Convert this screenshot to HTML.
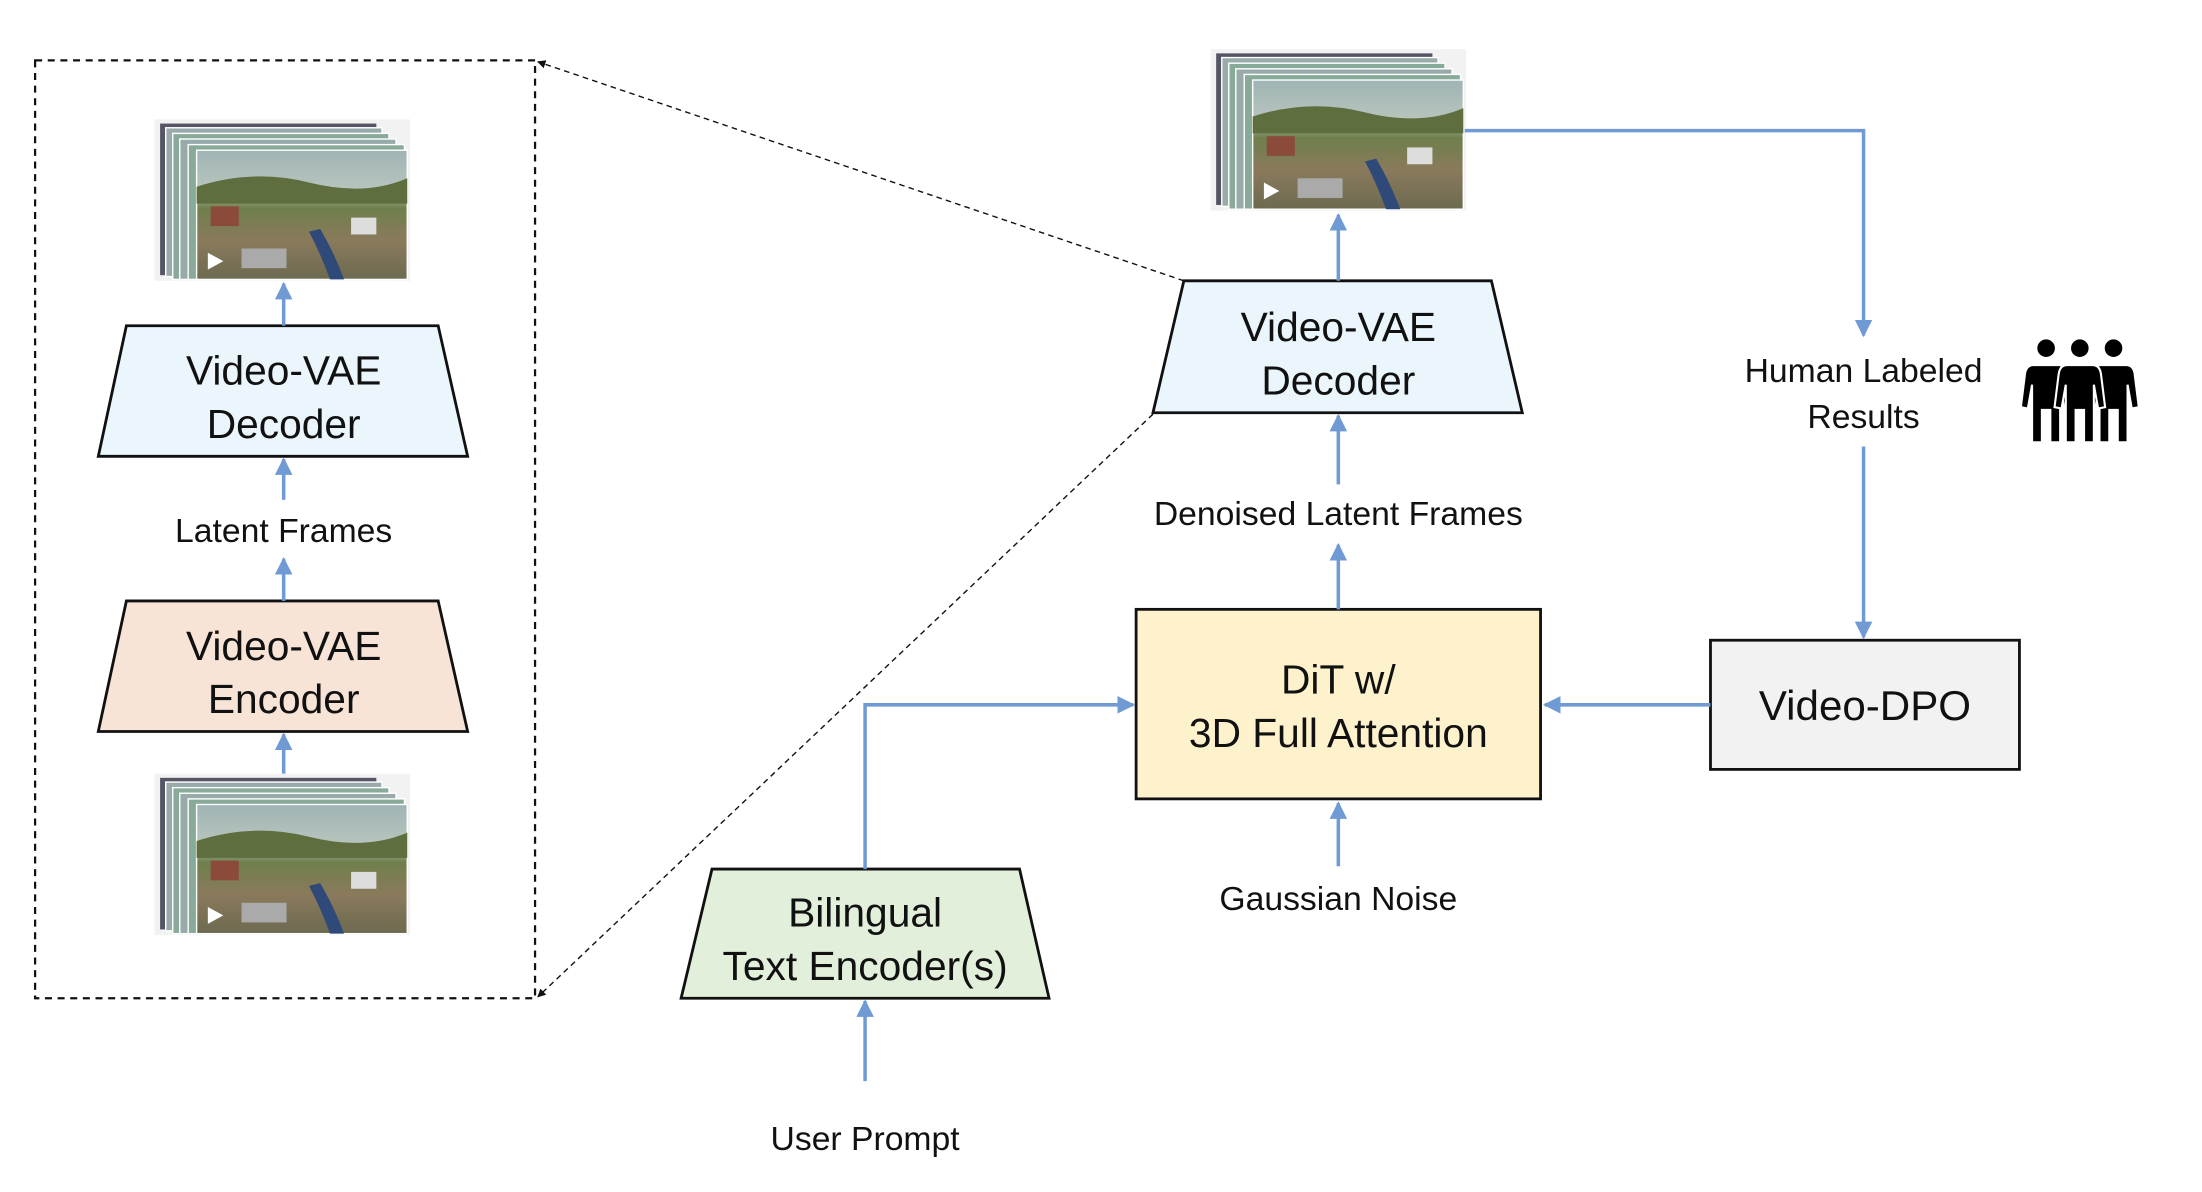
<!DOCTYPE html>
<html><head><meta charset="utf-8"><style>
html,body{margin:0;padding:0;background:#fff;}
svg{display:block;}
text{font-family:"Liberation Sans","DejaVu Sans",sans-serif;fill:#111;text-anchor:middle;}
</style></head><body>
<svg width="2202" height="1192" viewBox="0 0 1568 849" preserveAspectRatio="none" xmlns="http://www.w3.org/2000/svg">
<defs>
<marker id="ab" viewBox="0 0 10 10" refX="9" refY="5" markerWidth="5" markerHeight="5" orient="auto"><path d="M0,0 L10,5 L0,10 z" fill="#6f9ad4"/></marker>
<marker id="ak" viewBox="0 0 10 10" refX="9" refY="5" markerWidth="6" markerHeight="6" orient="auto"><path d="M0,0 L10,5 L0,10 z" fill="#111"/></marker>
<linearGradient id="sky" x1="0" y1="0" x2="0" y2="1">
<stop offset="0" stop-color="#9fb4b4"/><stop offset="0.3" stop-color="#b7c4bd"/><stop offset="0.45" stop-color="#6f7f4c"/><stop offset="0.7" stop-color="#8a7a5c"/><stop offset="1" stop-color="#6c6a50"/></linearGradient>
<g id="thumb">
<rect x="0" y="0" width="182" height="115" fill="#f2f2f2"/>
<rect x="4" y="3" width="154" height="108" fill="#556"/>
<rect x="8" y="6" width="154" height="106" fill="#9aa" stroke="#fff"/>
<rect x="13" y="10" width="154" height="104" fill="#8a9" stroke="#fff"/>
<rect x="18" y="14" width="154" height="100" fill="#9aa" stroke="#fff"/>
<rect x="24" y="18" width="154" height="96" fill="#8a9" stroke="#fff"/>
<rect x="30" y="22" width="150" height="92" fill="url(#sky)" stroke="#fff"/>
<path d="M30,48 Q70,35 110,45 T180,42 L180,60 L30,60 z" fill="#5f6e3e"/>
<path d="M110,80 Q118,95 125,114 L135,114 Q128,95 118,78 z" fill="#2f4a78"/>
<rect x="40" y="62" width="20" height="14" fill="#8b4a3a"/>
<rect x="140" y="70" width="18" height="12" fill="#ddd"/>
<rect x="62" y="92" width="32" height="14" fill="#aaa"/>
<path d="M38,95 L38,107 L49,101 z" fill="#fff"/>
</g>
</defs>

<!-- dashed zoom box -->
<rect x="25" y="43" width="356" height="668" fill="none" stroke="#111" stroke-width="1.6" stroke-dasharray="5,4"/>
<line x1="843" y1="200" x2="383" y2="44" stroke="#111" stroke-width="1" stroke-dasharray="4,3" marker-end="url(#ak)"/>
<line x1="821" y1="295" x2="383" y2="710" stroke="#111" stroke-width="1" stroke-dasharray="4,3" marker-end="url(#ak)"/>

<!-- left column -->
<use href="#thumb" x="110" y="85"/>
<use href="#thumb" x="110" y="551"/>
<polygon points="90,232 312,232 333,325 70,325" fill="#eaf6fc" stroke="#111" stroke-width="2"/>
<text x="202" y="274" font-size="29">Video-VAE</text>
<text x="202" y="312" font-size="29">Decoder</text>
<polygon points="90,428 312,428 333,521 70,521" fill="#f8e3d7" stroke="#111" stroke-width="2"/>
<text x="202" y="470" font-size="29">Video-VAE</text>
<text x="202" y="508" font-size="29">Encoder</text>
<text x="202" y="386" font-size="24">Latent Frames</text>
<g stroke="#6f9ad4" stroke-width="2.5" fill="none">
<line x1="202" y1="232" x2="202" y2="202" marker-end="url(#ab)"/>
<line x1="202" y1="356" x2="202" y2="327" marker-end="url(#ab)"/>
<line x1="202" y1="428" x2="202" y2="398" marker-end="url(#ab)"/>
<line x1="202" y1="551" x2="202" y2="523" marker-end="url(#ab)"/>
</g>

<!-- right main -->
<use href="#thumb" x="862" y="35"/>
<polygon points="843,200 1062,200 1084,294 821,294" fill="#eaf6fc" stroke="#111" stroke-width="2"/>
<text x="953" y="243" font-size="29">Video-VAE</text>
<text x="953" y="281" font-size="29">Decoder</text>
<text x="953" y="374" font-size="24">Denoised Latent Frames</text>
<rect x="809" y="434" width="288" height="135" fill="#fdf2cc" stroke="#111" stroke-width="2"/>
<text x="953" y="494" font-size="29">DiT w/</text>
<text x="953" y="532" font-size="29">3D Full Attention</text>
<text x="953" y="648" font-size="24">Gaussian Noise</text>
<rect x="1218" y="456" width="220" height="92" fill="#f2f2f2" stroke="#111" stroke-width="2"/>
<text x="1328" y="513" font-size="30">Video-DPO</text>
<polygon points="507,619 726,619 747,711 485,711" fill="#e2efda" stroke="#111" stroke-width="2"/>
<text x="616" y="660" font-size="29">Bilingual</text>
<text x="616" y="698" font-size="29">Text Encoder(s)</text>
<text x="616" y="819" font-size="24">User Prompt</text>
<text x="1327" y="272" font-size="24">Human Labeled</text>
<text x="1327" y="305" font-size="24">Results</text>

<g stroke="#6f9ad4" stroke-width="2.5" fill="none">
<line x1="953" y1="200" x2="953" y2="153" marker-end="url(#ab)"/>
<line x1="953" y1="345" x2="953" y2="296" marker-end="url(#ab)"/>
<line x1="953" y1="434" x2="953" y2="388" marker-end="url(#ab)"/>
<line x1="953" y1="617" x2="953" y2="572" marker-end="url(#ab)"/>
<line x1="1218" y1="502" x2="1100" y2="502" marker-end="url(#ab)"/>
<polyline points="1043,93 1327,93 1327,239" marker-end="url(#ab)"/>
<line x1="1327" y1="318" x2="1327" y2="454" marker-end="url(#ab)"/>
<polyline points="616,619 616,502 807,502" marker-end="url(#ab)"/>
<line x1="616" y1="770" x2="616" y2="713" marker-end="url(#ab)"/>
</g>

<!-- people icon -->
<g fill="#000" stroke="#fff" stroke-width="1.5">
<g transform="translate(1457,240)"><circle cx="0" cy="8" r="7"/><path d="M-9,20 L9,20 Q14,20 15,26 L18,50 L13,51 L10,34 L10,75 L3,75 L3,52 L-3,52 L-3,75 L-10,75 L-10,34 L-13,51 L-18,50 L-15,26 Q-14,20 -9,20 z"/></g>
<g transform="translate(1505,240)"><circle cx="0" cy="8" r="7"/><path d="M-9,20 L9,20 Q14,20 15,26 L18,50 L13,51 L10,34 L10,75 L3,75 L3,52 L-3,52 L-3,75 L-10,75 L-10,34 L-13,51 L-18,50 L-15,26 Q-14,20 -9,20 z"/></g>
<g transform="translate(1481,240)"><circle cx="0" cy="8" r="7"/><path d="M-9,20 L9,20 Q14,20 15,26 L18,50 L13,51 L10,34 L10,75 L3,75 L3,52 L-3,52 L-3,75 L-10,75 L-10,34 L-13,51 L-18,50 L-15,26 Q-14,20 -9,20 z"/></g>
</g>
</svg>
</body></html>
